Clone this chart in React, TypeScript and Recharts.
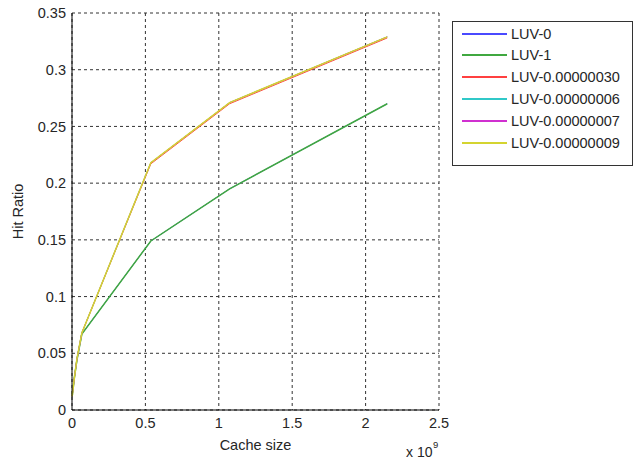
import React from "react";
import { LineChart, Line, XAxis, YAxis, CartesianGrid, Legend } from "recharts";

// cache sizes in bytes
const cacheSizes = [1048576, 16777216, 33554432, 67108864, 536870912, 1073741824, 2147483648];

const luv0 = [0.012, 0.029, 0.044, 0.067, 0.149, 0.195, 0.27];
const luv1 = [0.012, 0.029, 0.044, 0.067, 0.149, 0.195, 0.27];
const luv30 = [0.012, 0.029, 0.045, 0.068, 0.217, 0.27, 0.328];
const luv06 = [0.012, 0.029, 0.045, 0.068, 0.218, 0.271, 0.329];
const luv07 = [0.012, 0.029, 0.045, 0.068, 0.218, 0.271, 0.329];
const luv09 = [0.012, 0.029, 0.045, 0.068, 0.218, 0.271, 0.329];

const xTicks = [0, 5e8, 1e9, 1.5e9, 2e9, 2.5e9];
const xTickLabels = ["0", "0.5", "1", "1.5", "2", "2.5"];
const yTicks = [0, 0.05, 0.1, 0.15, 0.2, 0.25, 0.3, 0.35];
const yTickLabels = ["0", "0.05", "0.1", "0.15", "0.2", "0.25", "0.3", "0.35"];

// series hidden underneath another one get a thinner stroke
const series = [
  { key: "luv0", name: "LUV-0", color: "#4a4aff", values: luv0, width: 1 },
  { key: "luv1", name: "LUV-1", color: "#40a840", values: luv1, width: 1.5 },
  { key: "luv30", name: "LUV-0.00000030", color: "#ff4040", values: luv30, width: 1 },
  { key: "luv06", name: "LUV-0.00000006", color: "#30c8c8", values: luv06, width: 1 },
  { key: "luv07", name: "LUV-0.00000007", color: "#d030d0", values: luv07, width: 1 },
  { key: "luv09", name: "LUV-0.00000009", color: "#d4d430", values: luv09, width: 1.5 },
];

const data = cacheSizes.map((size, i) => {
  const row: Record<string, number> = { size };
  series.forEach((s) => {
    row[s.key] = s.values[i];
  });
  return row;
});

const FONT = "'Liberation Sans', Arial, sans-serif";
const tickStyle = { fontSize: 14.5, fill: "#262626", fontFamily: FONT };

function LegendBox() {
  return (
    <svg width={181} height={145} style={{ display: "block" }}>
      <rect x={0.5} y={0.5} width={180} height={144} fill="#fff" stroke="#333" />
      {series.map((s, i) => {
        const y = Math.round(12.5 + i * 21.8);
        return (
          <g key={s.key}>
            <line x1={10} x2={55} y1={y} y2={y} stroke={s.color} strokeWidth={2} />
            <text x={59} y={y + 5} fontFamily={FONT} fontSize={14.5} fill="#262626">
              {s.name}
            </text>
          </g>
        );
      })}
    </svg>
  );
}

export default function App() {
  return (
    <div style={{ position: "absolute", left: 0, top: 0, width: 634, height: 469, background: "#fff" }}>
      <LineChart width={634} height={469} data={data} margin={{ top: 13, right: 195, bottom: 29, left: 32 }}>
        <CartesianGrid stroke="#333" strokeDasharray="3 3" />
        <XAxis
          dataKey="size"
          type="number"
          domain={[0, 2.5e9]}
          ticks={xTicks}
          tickFormatter={(_v: number, i: number) => xTickLabels[i]}
          tickLine={false}
          tickSize={0}
          tickMargin={8}
          height={30}
          stroke="#000"
          tick={tickStyle}
          label={{
            content: ({ viewBox }: any) => (
              <g fontFamily={FONT} fill="#262626">
                <text x={viewBox.x + viewBox.width / 2} y={viewBox.y + 39.5} textAnchor="middle" fontSize={14.5}>
                  Cache size
                </text>
                <text x={viewBox.x + 334} y={viewBox.y + 47} fontSize={14}>
                  x 10
                </text>
                <text x={viewBox.x + 361} y={viewBox.y + 38} fontSize={9.5}>
                  9
                </text>
              </g>
            ),
          }}
        />
        <YAxis
          type="number"
          domain={[0, 0.35]}
          ticks={yTicks}
          tickFormatter={(_v: number, i: number) => yTickLabels[i]}
          tickLine={false}
          tickSize={0}
          tickMargin={6}
          width={40}
          stroke="#000"
          tick={tickStyle}
          label={{
            content: ({ viewBox }: any) => {
              const cx = 23;
              const cy = viewBox.y + viewBox.height / 2;
              return (
                <text
                  x={cx}
                  y={cy}
                  transform={`rotate(-90 ${cx} ${cy})`}
                  textAnchor="middle"
                  fontFamily={FONT}
                  fontSize={14.5}
                  fill="#262626"
                >
                  Hit Ratio
                </text>
              );
            },
          }}
        />
        <Legend
          layout="vertical"
          align="center"
          verticalAlign="middle"
          wrapperStyle={{ left: 452, top: 21, width: 181, height: 145 }}
          content={() => <LegendBox />}
        />
        {series.map((s) => (
          <Line
            key={s.key}
            dataKey={s.key}
            name={s.name}
            type="linear"
            stroke={s.color}
            strokeWidth={s.width}
            dot={false}
            activeDot={false}
            isAnimationActive={false}
          />
        ))}
      </LineChart>
    </div>
  );
}
